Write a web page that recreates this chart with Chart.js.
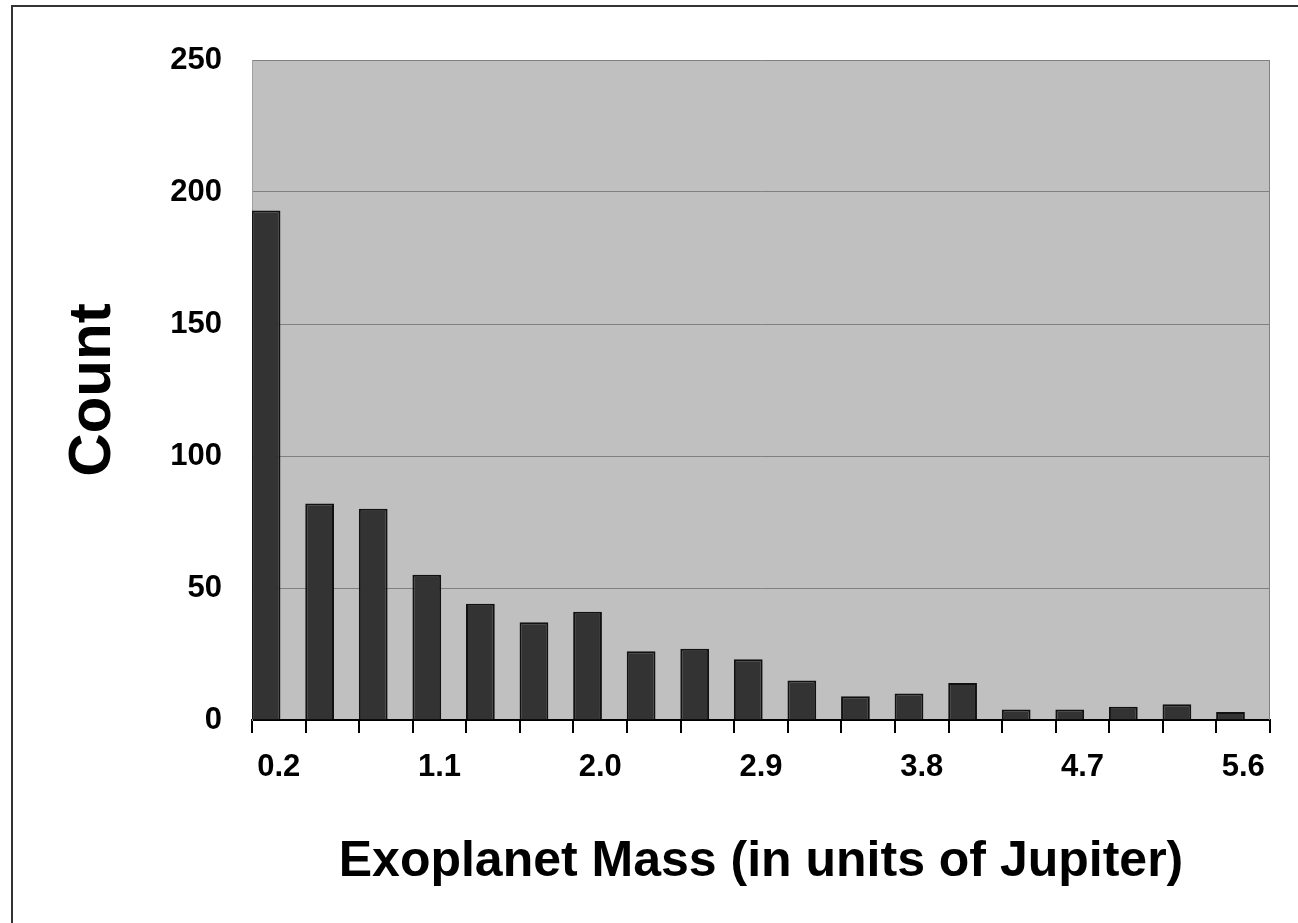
<!DOCTYPE html>
<html>
<head>
<meta charset="utf-8">
<title>Exoplanet Mass Distribution</title>
<script src="https://cdn.jsdelivr.net/npm/chart.js@4"></script>
<style>
  html, body { margin: 0; padding: 0; background: #ffffff; overflow: hidden; }
  #wrap { position: relative; width: 1298px; height: 923px; }
  #frame {
    position: absolute; left: 11px; top: 5px; width: 1400px; height: 1000px;
    border-left: 2px solid #333333; border-top: 2px solid #333333;
    pointer-events: none;
  }
  canvas { position: absolute; left: 0; top: 0; }
</style>
</head>
<body>
<div id="wrap">
  <div id="frame"></div>
  <canvas id="chart" width="1298" height="923"></canvas>
</div>
<script>
// Mass bins (Jupiter masses), one bar per bin
const massBins = ['0.2', '0.5', '0.8', '1.1', '1.4', '1.7', '2.0', '2.3', '2.6', '2.9',
                  '3.2', '3.5', '3.8', '4.1', '4.4', '4.7', '5.0', '5.3', '5.6'];
// Number of exoplanets in each bin
const planetCounts = [193, 82, 80, 55, 44, 37, 41, 26, 27, 23, 15, 9, 10, 14, 4, 4, 5, 6, 3];
// Count axis ticks
const countTicks = [0, 50, 100, 150, 200, 250];
// Every third bin gets a printed label
const labelEvery = 3;

const FONT = '"Liberation Sans", Arial, Helvetica, sans-serif';

// Grey plot background and right-hand frame line
const plotFrame = {
  id: 'plotFrame',
  beforeDraw(chart) {
    const { ctx, chartArea: a } = chart;
    ctx.save();
    ctx.fillStyle = '#c0c0c0';
    ctx.fillRect(a.left, a.top, a.right - a.left, a.bottom - a.top);
    ctx.restore();
  },
  afterDatasetsDraw(chart) {
    const { ctx, chartArea: a } = chart;
    ctx.save();
    ctx.strokeStyle = '#808080';
    ctx.lineWidth = 1;
    ctx.beginPath();
    ctx.moveTo(a.right - 0.5, a.top);
    ctx.lineTo(a.right - 0.5, a.bottom);
    ctx.stroke();
    ctx.restore();
  }
};

new Chart(document.getElementById('chart'), {
  type: 'bar',
  data: {
    labels: massBins,
    datasets: [
      {
        label: 'Count',
        data: planetCounts,
        backgroundColor: '#333333',
        borderColor: '#111111',
        borderWidth: 2,
        categoryPercentage: 0.95,
        barPercentage: 1.13
      },
      {
        // empty companion series: keeps each bar in the left part of its bin
        label: 'spacer',
        data: massBins.map(() => null),
        backgroundColor: 'rgba(0,0,0,0)',
        categoryPercentage: 0.95,
        barPercentage: 1.13
      }
    ]
  },
  options: {
    responsive: false,
    animation: false,
    devicePixelRatio: 1,
    layout: { padding: { left: 0, top: 60, right: 28, bottom: 0 } },
    plugins: {
      legend: { display: false },
      tooltip: { enabled: false }
    },
    scales: {
      x: {
        type: 'category',
        offset: true,
        afterFit(scale) { scale.height = 203; },
        grid: {
          offset: true,
          drawOnChartArea: false,
          drawTicks: true,
          tickLength: 13,
          color: '#000000',
          lineWidth: 2
        },
        border: { display: true, color: '#000000', width: 2 },
        ticks: {
          autoSkip: false,
          maxRotation: 0,
          minRotation: 0,
          padding: 16,
          color: '#000000',
          font: { family: FONT, size: 31, weight: 'bold' },
          callback(value, index) {
            return index % labelEvery === 0 ? massBins[index] : '';
          }
        },
        title: {
          display: true,
          text: 'Exoplanet Mass (in units of Jupiter)',
          color: '#000000',
          font: { family: FONT, size: 50, weight: 'bold', lineHeight: 1.2 },
          padding: { top: 0, bottom: 31 }
        }
      },
      y: {
        min: countTicks[0],
        max: countTicks[countTicks.length - 1],
        afterFit(scale) { scale.width = 252; },
        afterBuildTicks(scale) {
          scale.ticks = countTicks.map(v => ({ value: v }));
        },
        grid: {
          color: '#808080',
          lineWidth: 1,
          drawTicks: false
        },
        border: { display: true, color: '#a0a0a0', width: 1 },
        ticks: {
          padding: 30,
          color: '#000000',
          font: { family: FONT, size: 31, weight: 'bold' }
        },
        title: {
          display: true,
          text: 'Count',
          color: '#000000',
          font: { family: FONT, size: 60, weight: 'bold', lineHeight: 1.2 },
          padding: { top: 57, bottom: 0 }
        }
      }
    }
  },
  plugins: [plotFrame]
});
</script>
</body>
</html>
